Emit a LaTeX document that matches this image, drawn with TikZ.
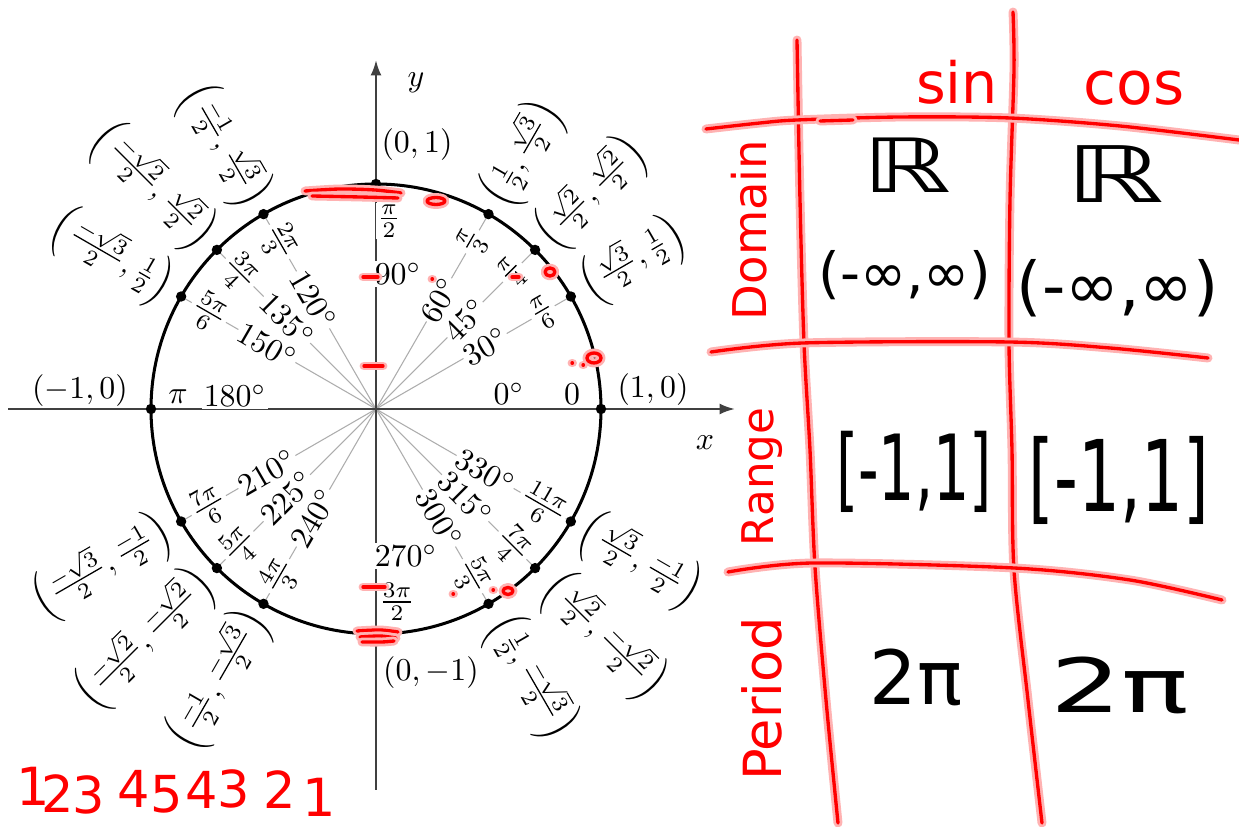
\documentclass[tikz,border=0pt]{standalone}
\usepackage{amsmath,amssymb}
\usepackage{fontspec}
\newfontfamily\handfont{DejaVu Sans}
\usetikzlibrary{arrows.meta}
\tikzset{
  axisline/.style={draw=black!75, line width=0.72pt, -{Latex[length=4.8pt,width=3.4pt]}},
  unitcirc/.style={draw=black, line width=0.95pt},
  rayline/.style={draw=black!32, line width=0.33pt},
  lab/.style={fill=white, inner sep=0.5pt},
  plainlab/.style={inner sep=0.5pt},
  redstroke/.style={draw=red, line width=1.05pt, line cap=round, line join=round,
     preaction={draw=red!30, line width=2.8pt, line cap=round, line join=round}},
}
\newcommand\hw[6]{%
  \node[#3, text=#4, font={\handfont\fontsize{#5}{#5}\selectfont}] (#2) at (#1) {#6};}
\begin{document}
\begin{tikzpicture}[x=0.314pt, y=-0.314pt]
\useasboundingbox (0,0) rectangle (1239,827);
\fill[white] (0,0) rectangle (1239,827);
% ---------------- unit circle ----------------
\begin{scope}[shift={(376,409)}, yscale=-1]
  \coordinate (O) at (0,0);
  \coordinate (xs) at (-368,0); \coordinate (xe) at (359,0);
  \coordinate (ys) at (0,-381); \coordinate (ye) at (0,349);
  \foreach \a in {0,30,45,60,90,120,135,150,180,210,225,240,270,300,315,330}{
    \coordinate (p\a) at (\a:225);
    \draw[rayline] (O) -- (p\a);
  }
  \draw[axisline] (xs) -- (xe);
  \draw[axisline] (ys) -- (ye);
  \draw[unitcirc] (O) circle[radius=225];
  \foreach \a in {0,30,45,60,90,120,135,150,180,210,225,240,270,300,315,330}{
    \fill (p\a) circle[radius=5.2];
  }
  % degrees
  \node[lab, rotate=30]  (d30)  at (30:126)  {$30^\circ$};
  \node[lab, rotate=45]  (d45)  at (45:126)  {$45^\circ$};
  \node[lab, rotate=60]  (d60)  at (60:126)  {$60^\circ$};
  \node[lab, rotate=-60] (d120) at (120:126) {$120^\circ$};
  \node[lab, rotate=-45] (d135) at (135:126) {$135^\circ$};
  \node[lab, rotate=-30] (d150) at (150:126) {$150^\circ$};
  \node[lab, rotate=30]  (d210) at (210:126) {$210^\circ$};
  \node[lab, rotate=45]  (d225) at (225:126) {$225^\circ$};
  \node[lab, rotate=60]  (d240) at (240:126) {$240^\circ$};
  \node[lab, rotate=-60] (d300) at (300:126) {$300^\circ$};
  \node[lab, rotate=-45] (d315) at (315:126) {$315^\circ$};
  \node[lab, rotate=-30] (d330) at (330:126) {$330^\circ$};
  % radians
  \node[lab, rotate=30]  (r30)  at (30:193)  {$\frac{\pi}{6}$};
  \node[lab, rotate=45]  (r45)  at (45:193)  {$\frac{\pi}{4}$};
  \node[lab, rotate=60]  (r60)  at (60:193)  {$\frac{\pi}{3}$};
  \node[lab, rotate=-60] (r120) at (120:193) {$\frac{2\pi}{3}$};
  \node[lab, rotate=-45] (r135) at (135:193) {$\frac{3\pi}{4}$};
  \node[lab, rotate=-30] (r150) at (150:193) {$\frac{5\pi}{6}$};
  \node[lab, rotate=30]  (r210) at (210:193) {$\frac{7\pi}{6}$};
  \node[lab, rotate=45]  (r225) at (225:193) {$\frac{5\pi}{4}$};
  \node[lab, rotate=60]  (r240) at (240:193) {$\frac{4\pi}{3}$};
  \node[lab, rotate=-60] (r300) at (300:193) {$\frac{5\pi}{3}$};
  \node[lab, rotate=-45] (r315) at (315:193) {$\frac{7\pi}{4}$};
  \node[lab, rotate=-30] (r330) at (330:193) {$\frac{11\pi}{6}$};
  % coordinates
  \node[plainlab, rotate=30]  (c30)  at (30:297)  {$\left(\frac{\sqrt{3}}{2},\frac{1}{2}\right)$};
  \node[plainlab, rotate=45]  (c45)  at (45:305)  {$\left(\frac{\sqrt{2}}{2},\frac{\sqrt{2}}{2}\right)$};
  \node[plainlab, rotate=60]  (c60)  at (60:295)  {$\left(\frac{1}{2},\frac{\sqrt{3}}{2}\right)$};
  \node[plainlab, rotate=-60] (c120) at (120:304) {$\left(\frac{-1}{2},\frac{\sqrt{3}}{2}\right)$};
  \node[plainlab, rotate=-45] (c135) at (135:315) {$\left(\frac{-\sqrt{2}}{2},\frac{\sqrt{2}}{2}\right)$};
  \node[plainlab, rotate=-30] (c150) at (150:305) {$\left(\frac{-\sqrt{3}}{2},\frac{1}{2}\right)$};
  \node[plainlab, rotate=30]  (c210) at (210:316) {$\left(\frac{-\sqrt{3}}{2},\frac{-1}{2}\right)$};
  \node[plainlab, rotate=45]  (c225) at (225:326) {$\left(\frac{-\sqrt{2}}{2},\frac{-\sqrt{2}}{2}\right)$};
  \node[plainlab, rotate=60]  (c240) at (240:313) {$\left(\frac{-1}{2},\frac{-\sqrt{3}}{2}\right)$};
  \node[plainlab, rotate=-60] (c300) at (300:310) {$\left(\frac{1}{2},\frac{-\sqrt{3}}{2}\right)$};
  \node[plainlab, rotate=-45] (c315) at (315:322) {$\left(\frac{\sqrt{2}}{2},\frac{-\sqrt{2}}{2}\right)$};
  \node[plainlab, rotate=-30] (c330) at (330:305) {$\left(\frac{\sqrt{3}}{2},\frac{-1}{2}\right)$};
\end{scope}
% axis-aligned labels (image coordinates)
\node[plainlab] (ylab) at (416,83)  {$y$};
\node[plainlab] (xlab) at (705,443) {$x$};
\node[plainlab] (c90)  at (417,145) {$(0,1)$};
\node[plainlab] (c0)   at (653,390) {$(1,0)$};
\node[plainlab] (c180) at (80,391)  {$(-1,0)$};
\node[plainlab] (c270) at (431,673) {$(0,-1)$};
\node[lab] (r90)  at (389,221) {$\frac{\pi}{2}$};
\node[lab] (d90)  at (398,274) {$90^\circ$};
\node[lab] (d270) at (406,556) {$270^\circ$};
\node[lab] (r270) at (397,602) {$\frac{3\pi}{2}$};
\node[lab] (d0)   at (509,394) {$0^\circ$};
\node[lab] (r0)   at (572,394) {$0$};
\node[lab] (r180) at (178,397) {$\pi$};
\node[lab] (d180) at (235,396) {$180^\circ$};
% ---------------- red marks on the circle ----------------
\draw[redstroke] plot[smooth] coordinates {(305,191) (340,189) (375,190) (401,193)};
\draw[redstroke] plot[smooth] coordinates {(312,196) (360,197) (398,198)};
\draw[redstroke] (436,201) ellipse[x radius=9, y radius=3.5];
\draw[redstroke] (363,277) -- (378,277);
\draw[redstroke] (432,279) -- (432.5,279);
\draw[redstroke] (364,366) -- (383,366);
\draw[redstroke] (550,272) ellipse[x radius=5, y radius=4];
\draw[redstroke] (512,277) -- (519,277);
\draw[redstroke] (594,358) ellipse[x radius=7, y radius=5];
\draw[redstroke] (572,363) -- (572.5,363);
\draw[redstroke] (583,365) -- (583.5,365);
\draw[redstroke] (363,587) -- (385,587);
\draw[redstroke] plot[smooth] coordinates {(357,631) (380,630) (398,632)};
\draw[redstroke] plot[smooth] coordinates {(360,637) (380,636) (396,638)};
\draw[redstroke] plot[smooth] coordinates {(362,642) (382,642) (394,641)};
\draw[redstroke] (453,594) -- (453.5,594);
\draw[redstroke] (493,590) -- (493.5,590);
\draw[redstroke] (508,591) ellipse[x radius=5, y radius=3.5];
% ---------------- hand-drawn table ----------------
\draw[redstroke] plot[smooth] coordinates {(797,40) (800,200) (804,343) (810,450) (815,567) (826,700) (838,823)};
\draw[redstroke] plot[smooth] coordinates {(1013,12) (1014,70) (1010,200) (1009,343) (1012,450) (1014,570) (1028,700) (1042,823)};
\draw[redstroke] plot[smooth] coordinates {(706,129) (760,123) (797,120) (900,117) (1010,118) (1120,126) (1239,140)};
\draw[redstroke] (820,121) -- (853,120);
\draw[redstroke] plot[smooth] coordinates {(711,352) (803,343) (1009,342) (1110,348) (1208,358)};
\draw[redstroke] plot[smooth] coordinates {(728,572) (813,563) (1014,568) (1130,580) (1222,600)};
% headers
\hw{957,82}{sin}{inner sep=0pt}{red}{17.9}{sin}
\hw{1134,88}{cos}{inner sep=0pt}{red}{18.8}{cos}
\hw{749,230}{dom}{inner sep=0pt, rotate=90}{red}{14.6}{Domain}
\hw{762,477}{ran}{inner sep=0pt, rotate=90}{red}{13.7}{Range}
\hw{762,699}{per}{inner sep=0pt, rotate=90}{red}{16.5}{Period}
% entries
\hw{907,165}{Rs}{inner sep=0pt, xscale=1.5}{black}{23.5}{ℝ}
\hw{1115,174}{Rc}{inner sep=0pt, xscale=1.6}{black}{24.5}{ℝ}
\hw{905,275}{ds}{inner sep=0pt}{black}{17.4}{(-∞,∞)}
\hw{1118,288}{dc}{inner sep=0pt}{black}{20.3}{(-∞,∞)}
\hw{914,472}{rs}{inner sep=0pt, yscale=1.6}{black}{17.9}{[-1,1]}
\hw{1119,480}{rc}{inner sep=0pt, yscale=1.5}{black}{20.7}{[-1,1]}
\hw{916,677}{ps}{inner sep=0pt}{black}{23.5}{2π}
\hw{1120,685}{pc}{inner sep=0pt, xscale=1.5}{black}{23.5}{2π}
% bottom numbers
\hw{33,786}{n1}{inner sep=0pt}{red}{16.5}{1}
\hw{58,794}{n2}{inner sep=0pt}{red}{16}{2}
\hw{89,795}{n3}{inner sep=0pt}{red}{16}{3}
\hw{134,789}{n4}{inner sep=0pt}{red}{16}{4}
\hw{167,794}{n5}{inner sep=0pt}{red}{16}{5}
\hw{202,790}{n6}{inner sep=0pt}{red}{16}{4}
\hw{234,789}{n7}{inner sep=0pt}{red}{16}{3}
\hw{280,790}{n8}{inner sep=0pt}{red}{16}{2}
\hw{319,797}{n9}{inner sep=0pt}{red}{16.5}{1}
\end{tikzpicture}
\end{document}
